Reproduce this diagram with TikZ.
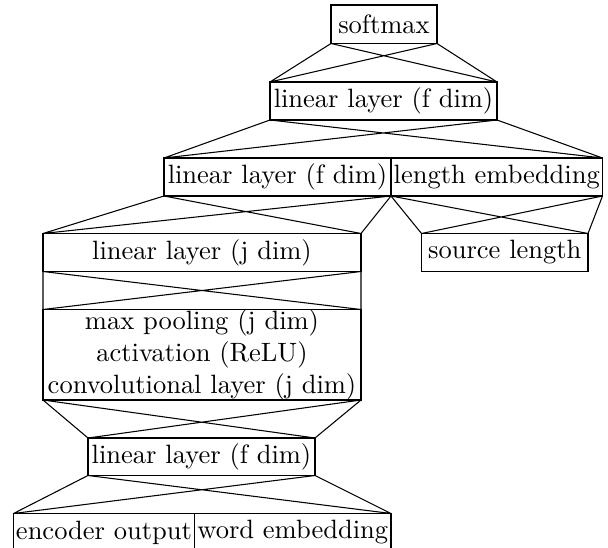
\documentclass[tikz,border=0pt]{standalone}
% one drawing unit in points
\def\pxunit{0.3774}
% four straight connectors from two lower corners of one block to two upper corners of the next
\newcommand\xlink[4]{\draw (#1) -- (#3) (#1) -- (#4) (#2) -- (#3) (#2) -- (#4);}
\begin{document}
\begin{tikzpicture}[x=\pxunit pt, y=-\pxunit pt,
  layer/.style 2 args={draw, rectangle, inner sep=0pt, outer sep=0pt, align=center,
    minimum width=#1*\pxunit pt, minimum height=#2*\pxunit pt},
  line width=0.4pt]
\useasboundingbox (0,0) rectangle (608,548);

\node[layer={106}{38.5}] (softmax) at (384,24.25) {softmax};
\node[layer={227}{38}] (linA) at (383.5,101) {linear layer (f dim)};
\node[layer={227}{38}] (linB) at (277.5,177) {linear layer (f dim)};
\node[layer={211.5}{38}] (lenemb) at (496.75,177) {length embedding};
\node[layer={318}{38}] (linj) at (202,252.5) {linear layer (j dim)};
\node[layer={166.5}{38}] (srclen) at (504.75,252.5) {source length};
\node[layer={318}{90.5}] (conv) at (202,354.75)
  {max pooling (j dim)\\activation (ReLU)\\convolutional layer (j dim)};
\node[layer={227}{37.5}] (linC) at (201.5,456.75) {linear layer (f dim)};
\node[layer={181}{38}] (encout) at (104,532.5) {encoder output};
\node[layer={196.5}{38}] (wordemb) at (292.75,532.5) {word embedding};

\xlink{softmax.south west}{softmax.south east}{linA.north west}{linA.north east}
\xlink{linA.south west}{linA.south east}{linB.north west}{lenemb.north east}
\xlink{linB.south west}{linB.south east}{linj.north west}{linj.north east}
\xlink{lenemb.south west}{lenemb.south east}{srclen.north west}{srclen.north east}
\xlink{linj.south west}{linj.south east}{conv.north west}{conv.north east}
\xlink{conv.south west}{conv.south east}{linC.north west}{linC.north east}
\xlink{linC.south west}{linC.south east}{encout.north west}{wordemb.north east}
\end{tikzpicture}
\end{document}
